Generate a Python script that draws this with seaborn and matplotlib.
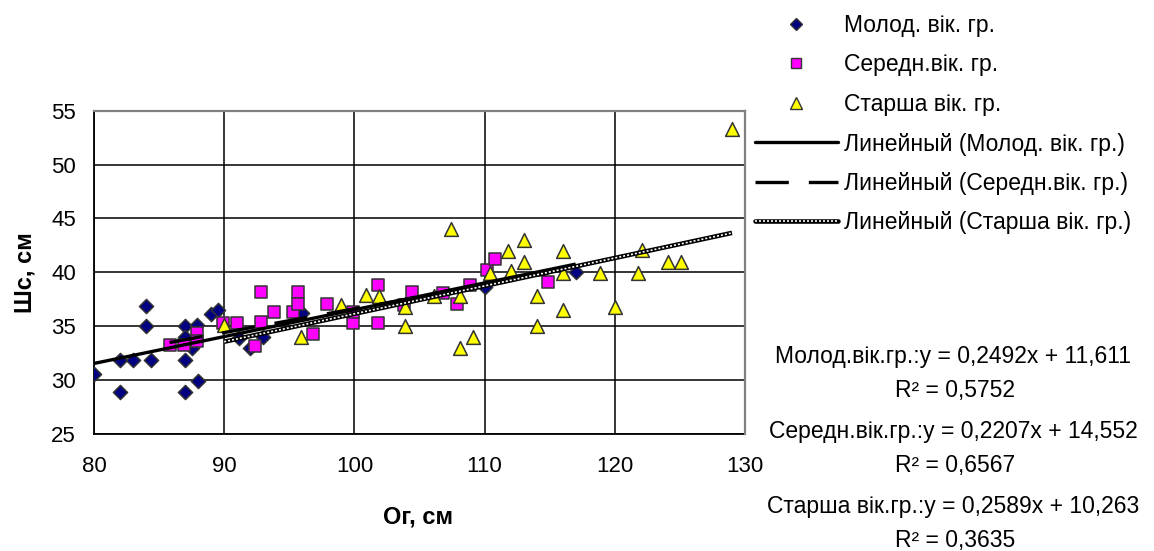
import numpy as np
import matplotlib
matplotlib.use("Agg")
import matplotlib.pyplot as plt
from matplotlib.lines import Line2D
from matplotlib.legend_handler import HandlerTuple
import seaborn as sns

# Молод. вік. гр.
young_x = [80.0, 82.0, 82.0, 83.0, 84.0, 84.0, 84.4, 87.0, 87.0, 87.0, 87.0,
           87.5, 87.9, 88.0, 89.0, 89.5, 91.1, 92.0, 93.0, 96.0, 110.0, 117.0]
young_y = [30.6, 31.9, 28.9, 31.9, 36.9, 35.0, 31.9, 35.0, 34.0, 31.9, 28.9,
           33.0, 35.1, 29.9, 36.1, 36.5, 33.9, 33.0, 34.0, 36.2, 38.6, 40.0]

# Середн. вік. гр.
middle_x = [85.8, 86.9, 87.9, 87.9, 89.9, 91.0, 92.4, 92.8, 92.8, 93.8, 95.3,
            95.7, 95.7, 96.8, 97.9, 99.9, 99.9, 101.8, 101.8, 103.8, 104.4,
            106.8, 107.9, 108.9, 110.2, 110.8, 114.9]
middle_y = [33.3, 33.3, 34.4, 33.6, 35.3, 35.3, 33.2, 38.2, 35.4, 36.3, 36.3,
            38.2, 37.1, 34.3, 37.1, 35.3, 36.3, 38.8, 35.3, 37.0, 38.2,
            38.1, 37.1, 38.8, 40.2, 41.2, 39.1]

# Старша вік. гр.
old_x = [90.0, 95.9, 99.0, 100.9, 101.9, 103.9, 103.9, 106.1, 107.4, 108.1,
         108.1, 109.1, 110.4, 111.8, 112.0, 113.0, 113.0, 114.0, 114.0, 116.0,
         116.0, 116.0, 118.9, 120.0, 121.8, 122.1, 124.1, 125.1, 129.0]
old_y = [35.1, 34.0, 37.0, 37.9, 37.8, 36.8, 35.0, 37.8, 44.0, 37.8,
         33.0, 34.0, 39.9, 42.0, 40.1, 43.0, 41.0, 37.8, 35.0, 42.0,
         39.9, 36.5, 39.9, 36.8, 39.9, 42.1, 41.0, 41.0, 53.3]

groups = ["Молод. вік. гр.", "Середн.вік. гр.", "Старша вік. гр."]
eq_names = ["Молод.вік.гр.", "Середн.вік.гр.", "Старша вік.гр."]
slopes = [0.2492, 0.2207, 0.2589]
intercepts = [11.611, 14.552, 10.263]
r2 = [0.5752, 0.6567, 0.3635]

colors = ["#000080", "#FF00FF", "#FFFF00"]
markers = ["D", "s", "^"]
sizes = [52, 66, 98]

sns.set_style("white")
plt.rcParams["font.family"] = ["Liberation Sans", "DejaVu Sans"]
plt.rcParams["text.color"] = "black"
plt.rcParams["axes.labelcolor"] = "black"
plt.rcParams["xtick.color"] = "black"
plt.rcParams["ytick.color"] = "black"

fig = plt.figure(figsize=(11.54, 5.51), dpi=100)
ax = fig.add_axes([94 / 1154, 117 / 551, 651 / 1154, 323.3 / 551])

xs_all = [young_x, middle_x, old_x]
ys_all = [young_y, middle_y, old_y]

for xs, ys, c, m, s in zip(xs_all, ys_all, colors, markers, sizes):
    sns.scatterplot(x=xs, y=ys, marker=m, color=c, s=s, edgecolor="#333333",
                    linewidth=1.1, ax=ax, zorder=3, legend=False)


def comma(v, n):
    return f"{v:.{n}f}".replace(".", ",")


# trend lines from the stated equations, over each series' x range
def trend(i):
    x = np.array([min(xs_all[i]), max(xs_all[i])])
    return x, slopes[i] * x + intercepts[i]


x0, y0 = trend(0)
ax.plot(x0, y0, color="black", lw=2.4, zorder=4, solid_capstyle="butt")
x1, y1 = trend(1)
ax.plot(x1, y1, color="black", lw=2.4, zorder=4, dashes=(10, 6))
x2, y2 = trend(2)
ax.plot(x2, y2, color="black", lw=3.3, zorder=5, solid_capstyle="butt")
ax.plot(x2, y2, color="white", lw=1.2, zorder=6, dashes=(1.2, 1.2))

ax.set_xlim(80, 130)
ax.set_ylim(25, 55)
ax.set_xticks(range(80, 131, 10))
ax.set_yticks(range(25, 56, 5))
ax.grid(True, color="black", lw=1.1)
ax.set_axisbelow(True)
for side in ["left", "bottom"]:
    ax.spines[side].set_color("black")
    ax.spines[side].set_linewidth(1.3)
for side in ["top", "right"]:
    ax.spines[side].set_color("#808080")
    ax.spines[side].set_linewidth(1.6)
    ax.spines[side].set_zorder(7)
ax.tick_params(axis="both", direction="out", length=5, width=1.1,
               color="black", labelsize=16, labelcolor="black")
ax.tick_params(axis="x", pad=11)
ax.tick_params(axis="y", pad=8)

ax.set_xlabel("Ог, см", fontsize=17, fontweight="bold")
ax.xaxis.label.set_verticalalignment("center")
ax.xaxis.set_label_coords(0.498, -0.257)
ax.set_ylabel("Шс, см", fontsize=17, fontweight="bold")
ax.yaxis.label.set_verticalalignment("center")
ax.yaxis.set_label_coords(-0.106, 0.5)

handles = [
    Line2D([], [], ls="none", marker="D", ms=6, mfc=colors[0], mec="#333333", mew=1),
    Line2D([], [], ls="none", marker="s", ms=7, mfc=colors[1], mec="#333333", mew=1),
    Line2D([], [], ls="none", marker="^", ms=8, mfc=colors[2], mec="#333333", mew=1),
    Line2D([], [], color="black", lw=2.4),
    Line2D([], [], color="black", lw=2.4, dashes=(10, 6)),
    (Line2D([], [], color="black", lw=3.3),
     Line2D([], [], color="white", lw=1.2, dashes=(1.2, 1.2))),
]
labels = groups + ["Линейный (" + g + ")" for g in groups]
fig.legend(handles, labels, loc="upper left",
           bbox_to_anchor=(755 / 1154, 1 - 14 / 551),
           frameon=False, fontsize=16.5, handlelength=3.6,
           handletextpad=0.3, labelspacing=0.72, borderpad=0,
           borderaxespad=0, handler_map={tuple: HandlerTuple(ndivide=1)})

eq_y = [357, 431.7, 506.7]
for i in range(3):
    fig.text(953 / 1154, 1 - eq_y[i] / 551,
             f"{eq_names[i]}:y = {comma(slopes[i], 4)}x + {comma(intercepts[i], 3)}",
             ha="center", va="center", fontsize=16.5)
    fig.text(955 / 1154, 1 - (eq_y[i] + 34) / 551,
             f"R² = {comma(r2[i], 4)}",
             ha="center", va="center", fontsize=16.5)

fig.savefig("out.png", dpi=100)
